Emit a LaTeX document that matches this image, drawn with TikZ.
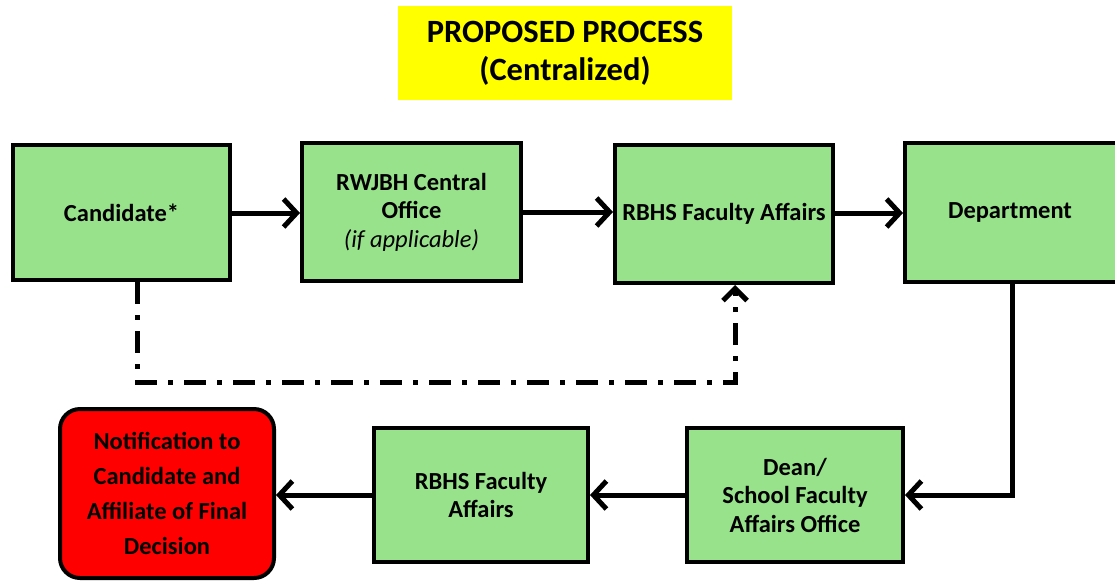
\documentclass[tikz,border=0pt]{standalone}
\usepackage{fontspec}
\setmainfont{Carlito}
\usetikzlibrary{arrows.meta}
\definecolor{boxgreen}{RGB}{152,226,140}
\definecolor{boxred}{RGB}{254,0,0}
\definecolor{titleyellow}{RGB}{255,255,0}
\tikzset{
  greenbox/.style={draw=black, line width=4pt, fill=boxgreen, align=center, inner sep=0pt,
    font=\fontsize{24.5}{28.5}\selectfont\bfseries},
  redbox/.style={draw=black, line width=4pt, fill=boxred, align=center, inner sep=0pt,
    rounded corners=20pt, font=\fontsize{24.5}{35}\selectfont\bfseries},
  titlebox/.style={fill=titleyellow, align=center, inner sep=0pt,
    font=\fontsize{32.5}{38}\selectfont\bfseries},
  flow/.style={line width=5pt, -{Straight Barb[length=13pt,width=28pt]}},
  optflow/.style={line width=5pt, dash pattern=on 22pt off 11pt on 5pt off 11pt,
    -{Straight Barb[length=12pt,width=24pt]}}
}
\begin{document}
\begin{tikzpicture}[x=1pt,y=-1pt]
\useasboundingbox (0,0) rectangle (1115,582);
\node[titlebox, minimum width=334pt, minimum height=94pt] (title) at (565,53) {PROPOSED PROCESS\\(Centralized)};
\node[greenbox, minimum width=217pt, minimum height=135pt] (cand) at (121.5,212.5) {Candidate*};
\node[greenbox, minimum width=219pt, minimum height=138pt] (rwj) at (411.5,212) {RWJBH Central\\Office\\{\mdseries\itshape (if applicable)}};
\node[greenbox, minimum width=218pt, minimum height=138pt] (rbhs) at (724,214) {RBHS Faculty Affairs};
\node[greenbox, minimum width=218pt, minimum height=139pt] (dept) at (1014,212.5) {\hspace*{-8pt}Department};
\node[greenbox, minimum width=216pt, minimum height=134pt] (dean) at (795,495) {Dean/\\School Faculty\\Affairs Office};
\node[greenbox, minimum width=214pt, minimum height=134pt] (rbhs2) at (481,495) {RBHS Faculty\\Affairs};
\node[redbox, minimum width=214pt, minimum height=169pt] (notif) at (167,493.5) {Notification to\\Candidate and\\Affiliate of Final\\Decision};
\coordinate (c1) at (137,382);
\coordinate (c2) at (735,382);
\coordinate (d1) at (1012,495);
\draw[flow] (cand.east |- 0,213) -- (rwj.west |- 0,213);
\draw[flow] (rwj.east |- 0,212) -- (rbhs.west |- 0,212);
\draw[flow] (rbhs.east |- 0,213) -- (dept.west |- 0,213);
\draw[flow] (dept.south -| d1) -- (d1) -- (dean.east |- d1);
\draw[flow] (dean.west |- 0,495) -- (rbhs2.east |- 0,495);
\draw[flow] (rbhs2.west |- 0,495) -- (notif.east |- 0,495);
\draw[optflow] (cand.south -| c1) -- (c1) -- (c2) -- (rbhs.south -| c2);
\end{tikzpicture}
\end{document}
